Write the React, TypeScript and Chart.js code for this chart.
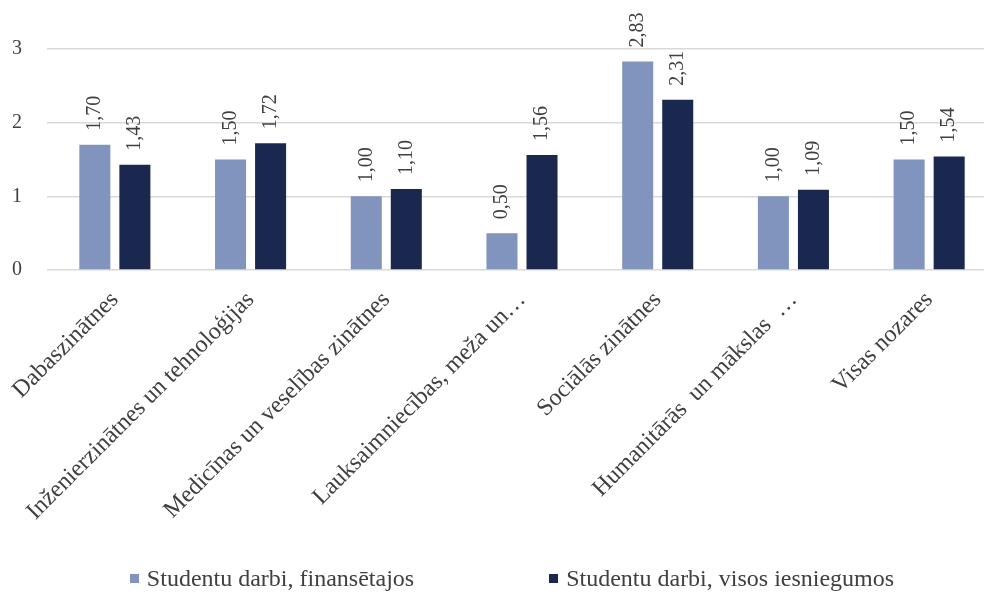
import React, { useEffect, useRef } from "react";
import { Chart, registerables } from "chart.js";

Chart.register(...registerables);

const categories = [
  "Dabaszinātnes",
  "Inženierzinātnes un tehnoloģijas",
  "Medicīnas un veselības zinātnes",
  "Lauksaimniecības, meža un…",
  "Sociālās zinātnes",
  "Humanitārās  un mākslas  …",
  "Visas nozares",
];
const seriesNames = ["Studentu darbi, finansētajos", "Studentu darbi, visos iesniegumos"];
const financed = [1.7, 1.5, 1.0, 0.5, 2.83, 1.0, 1.5];
const allSubmissions = [1.43, 1.72, 1.1, 1.56, 2.31, 1.09, 1.54];
const yTicks = [0, 1, 2, 3];
const colors = ["#8094BE", "#1A2850"];

const FONT = "'Liberation Serif', 'Times New Roman', serif";

const valueLabels = {
  id: "valueLabels",
  afterDatasetsDraw(chart: any) {
    const ctx = chart.ctx;
    ctx.save();
    ctx.font = `20px ${FONT}`;
    ctx.fillStyle = "#404040";
    ctx.textAlign = "left";
    ctx.textBaseline = "middle";
    chart.data.datasets.forEach((ds: any, di: number) => {
      const meta = chart.getDatasetMeta(di);
      meta.data.forEach((bar: any, i: number) => {
        const v = ds.data[i] as number;
        ctx.save();
        ctx.translate(bar.x, bar.y - 14);
        ctx.rotate(-Math.PI / 2);
        ctx.fillText(v.toFixed(2).replace(".", ","), 0, 0);
        ctx.restore();
      });
    });
    ctx.restore();
  },
};

export default function App() {
  const ref = useRef<HTMLCanvasElement>(null);
  useEffect(() => {
    const chart = new Chart(ref.current!, {
      type: "bar",
      data: {
        labels: categories,
        datasets: [
          { label: seriesNames[0], data: financed, backgroundColor: colors[0] },
          { label: seriesNames[1], data: allSubmissions, backgroundColor: colors[1] },
        ],
      },
      options: {
        animation: false,
        responsive: true,
        maintainAspectRatio: false,
        datasets: { bar: { categoryPercentage: 0.59, barPercentage: 0.775 } },
        layout: { padding: { left: 0, right: 13, top: 49, bottom: 0 } },
        plugins: { legend: { display: false }, tooltip: { enabled: false } },
        scales: {
          x: {
            grid: { display: false },
            border: { display: false },
            afterFit: (axis: any) => {
              axis.height = 322;
            },
            ticks: {
              autoSkip: false,
              minRotation: 45,
              maxRotation: 45,
              color: "#404040",
              font: { family: FONT, size: 24 },
              padding: 8,
            },
          },
          y: {
            min: 0,
            max: 3,
            afterBuildTicks: (axis: any) => {
              axis.ticks = yTicks.map((v) => ({ value: v }));
            },
            afterFit: (axis: any) => {
              axis.width = 47;
            },
            grid: { color: "#d9d9d9", lineWidth: 1.5, drawTicks: false },
            border: { display: false },
            ticks: {
              color: "#404040",
              font: { family: FONT, size: 20 },
              padding: 25,
            },
          },
        },
      },
      plugins: [valueLabels],
    });
    return () => chart.destroy();
  }, []);

  return (
    <div style={{ position: "fixed", left: 0, top: 0, width: 1010, height: 592, background: "#fff" }}>
      <canvas ref={ref} />
      <div
        style={{
          position: "absolute",
          top: 563,
          left: 0,
          width: 1024,
          display: "flex",
          justifyContent: "center",
          gap: 135,
          fontFamily: FONT,
          fontSize: 24,
          lineHeight: "30px",
          color: "#404040",
        }}
      >
        {seriesNames.map((n, i) => (
          <div key={n} style={{ display: "flex", alignItems: "center" }}>
            <span style={{ display: "inline-block", width: 9, height: 9, background: colors[i], marginRight: 8 }} />
            <span>{n}</span>
          </div>
        ))}
      </div>
    </div>
  );
}
